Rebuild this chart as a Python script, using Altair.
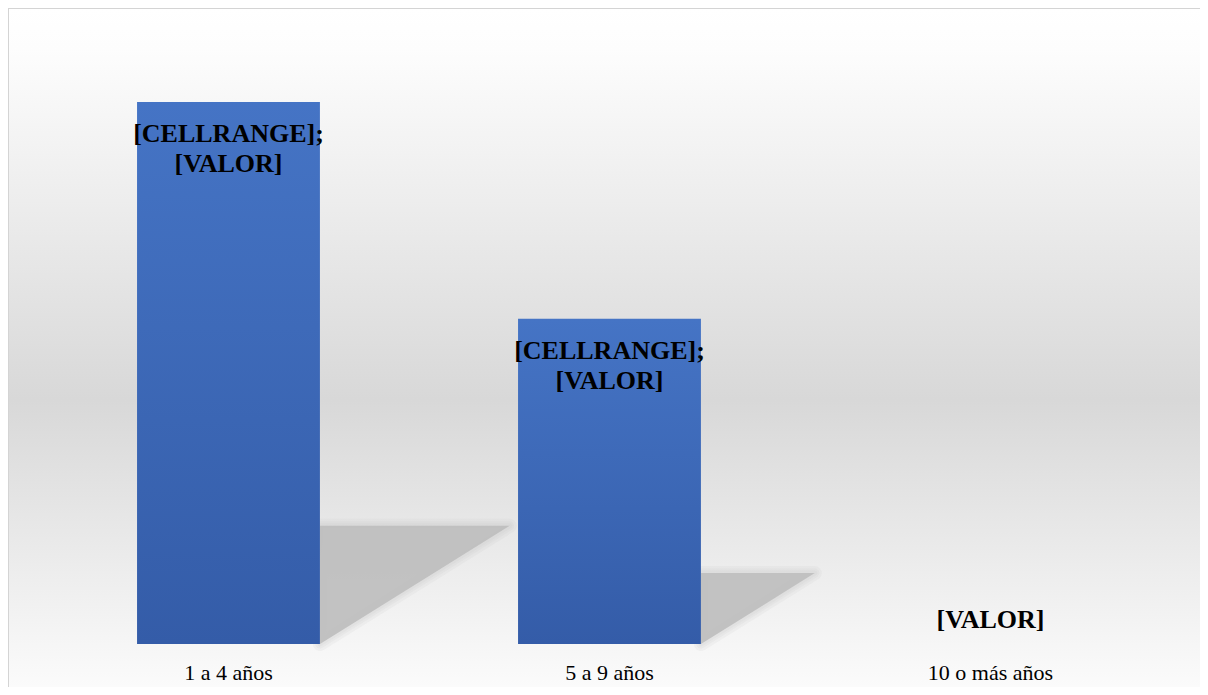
import altair as alt
import pandas as pd

# ---- data ----
categories = ["1 a 4 años", "5 a 9 años", "10 o más años"]
values = [5, 3, 0]
label_text = ["[CELLRANGE];\n[VALOR]", "[CELLRANGE];\n[VALOR]", "[VALOR]"]

W, H = 1192, 679
XDOM = [-0.5787, 2.5499]
YDOM = [-0.3967, 5.867]
HALF = 0.24          # half bar width (x units)
SH_RATIO = 0.218     # shadow height relative to value
SH_SHIFT = 0.0996    # shadow horizontal shift per value unit

df = pd.DataFrame({
    "cat": categories,
    "value": values,
    "pos": list(range(len(categories))),
    "label": label_text,
})
df["x0"] = df["pos"] - HALF
df["x1"] = df["pos"] + HALF
df["zero"] = 0

# shadow triangles derived from the values
rows = []
for c, v, p in zip(categories, values, range(len(categories))):
    if v <= 0:
        continue
    sh = v * SH_RATIO
    d = v * SH_SHIFT
    rows.append({"cat": c, "sx": p + HALF, "top": sh, "bot": 0})
    rows.append({"cat": c, "sx": p + HALF + d, "top": sh, "bot": sh})
shadow = pd.DataFrame(rows)

xs = alt.Scale(domain=XDOM, nice=False, zero=False)
ys = alt.Scale(domain=YDOM, nice=False, zero=False)

one = pd.DataFrame({"a": [0]})

bg = alt.Chart(one).mark_rect(
    fill=alt.Gradient(
        gradient="linear", x1=0, y1=0, x2=0, y2=1,
        stops=[
            alt.GradientStop(offset=0, color="#ffffff"),
            alt.GradientStop(offset=0.06, color="#fdfdfd"),
            alt.GradientStop(offset=0.577, color="#d8d8d8"),
            alt.GradientStop(offset=1, color="#fbfbfb"),
        ],
    )
).encode(x=alt.value(0), x2=alt.value(W), y=alt.value(0), y2=alt.value(H))

border_top = alt.Chart(one).mark_rule(color="#d4d4d4", strokeWidth=1).encode(
    x=alt.value(0), x2=alt.value(W), y=alt.value(0.5)
)
border_left = alt.Chart(one).mark_rule(color="#d4d4d4", strokeWidth=1).encode(
    x=alt.value(0.5), y=alt.value(0), y2=alt.value(H)
)

def shadow_layer(**kw):
    return alt.Chart(shadow).mark_area(**kw).encode(
        x=alt.X("sx:Q", scale=xs, axis=None),
        y=alt.Y("top:Q", scale=ys, axis=None),
        y2="bot:Q",
        detail="cat:N",
    )

shadow_layers = [
    shadow_layer(fill="#c0c0c0", fillOpacity=0.0, stroke="#c0c0c0", strokeWidth=w,
                 strokeOpacity=0.13, strokeJoin="round")
    for w in (14, 9, 5)
] + [shadow_layer(color="#bfbfbf", opacity=0.95)]

base = alt.Chart(df)

bars = base.transform_filter("datum.value > 0").mark_rect(
    fill=alt.Gradient(
        gradient="linear", x1=0, y1=0, x2=0, y2=1,
        stops=[
            alt.GradientStop(offset=0, color="#4574c5"),
            alt.GradientStop(offset=1, color="#345ca8"),
        ],
    )
).encode(
    x=alt.X("x0:Q", scale=xs, axis=None),
    x2="x1:Q",
    y=alt.Y("value:Q", scale=ys, axis=None),
    y2="zero:Q",
)

lab_in = base.transform_filter("datum.value > 0").mark_text(
    font="Liberation Serif", fontWeight="bold", fontSize=26, lineBreak="\n",
    lineHeight=30, baseline="alphabetic", align="center", dy=40, color="#000000"
).encode(
    x=alt.X("pos:Q", scale=xs, axis=None),
    y=alt.Y("value:Q", scale=ys, axis=None),
    text="label:N",
)

lab_zero = base.transform_filter("datum.value <= 0").mark_text(
    font="Liberation Serif", fontWeight="bold", fontSize=26,
    baseline="alphabetic", align="center", dy=-16, color="#000000"
).encode(
    x=alt.X("pos:Q", scale=xs, axis=None),
    y=alt.Y("value:Q", scale=ys, axis=None),
    text="label:N",
)

cat_labels = base.mark_text(
    font="Liberation Serif", fontSize=22, baseline="alphabetic", align="center",
    dy=36, color="#000000"
).encode(
    x=alt.X("pos:Q", scale=xs, axis=None),
    y=alt.Y("zero:Q", scale=ys, axis=None),
    text="cat:N",
)

chart = alt.layer(
    bg, *shadow_layers, bars, lab_in, lab_zero, cat_labels, border_top, border_left
).properties(
    width=W, height=H, padding=0,
    autosize=alt.AutoSizeParams(type="none"),
).configure_view(strokeWidth=0).configure(background="#ffffff")

chart.save("out.html", embed_options={"renderer": "svg", "actions": False})
